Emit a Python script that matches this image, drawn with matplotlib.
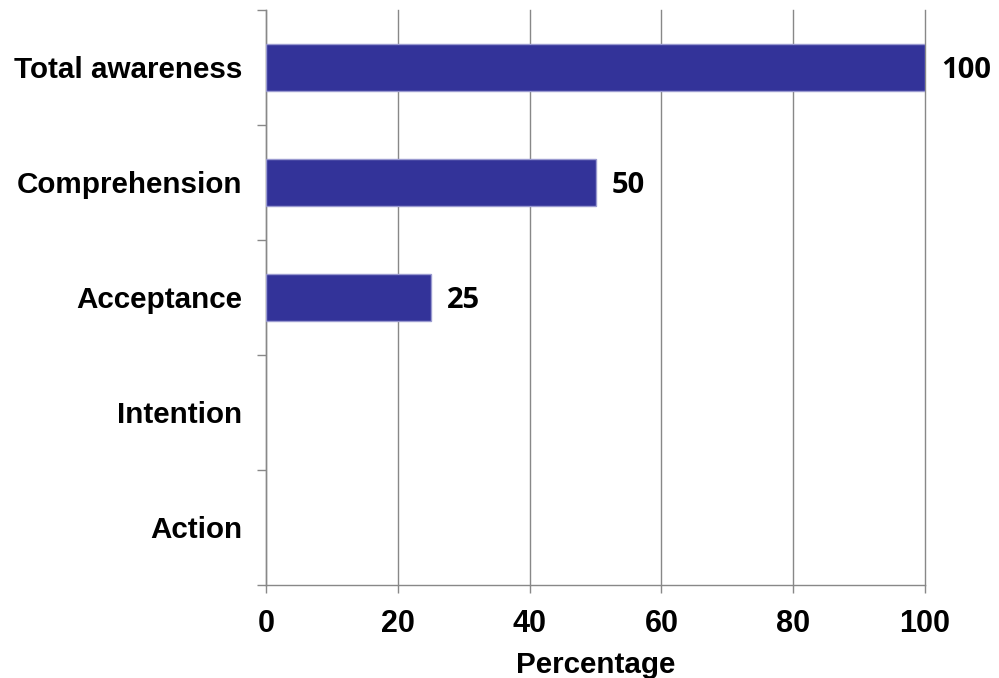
import numpy as np
import matplotlib.pyplot as plt
from matplotlib.ticker import FixedLocator

categories = ["Total awareness", "Comprehension", "Acceptance", "Intention", "Action"]
values = [100, 50, 25, 0, 0]
value_labels = ["100", "50", "25", "", ""]
xticks = [0, 20, 40, 60, 80, 100]

fig = plt.figure(figsize=(9.99, 6.78), dpi=100)
ax = fig.add_axes([0.2663, 0.1372, 0.6597, 0.8481])

y = np.arange(len(categories))
# only draw the non-empty bars (zero bars would leave an edge line)
shown = [i for i, v in enumerate(values) if v > 0]
ax.barh(y[shown], [values[i] for i in shown], height=0.41, color="#333399",
        edgecolor="#9a9ad0", linewidth=1, zorder=3)

for yi, v, lab in zip(y, values, value_labels):
    if lab:
        ax.text(v + 2.5, yi + 0.025, lab, va="center", ha="left", fontsize=21,
                fontweight="bold", family=["Open Sans", "DejaVu Sans"], color="black")

ax.set_xlim(0, 100)
ax.set_ylim(len(categories) - 0.5, -0.5)
ax.set_xticks(xticks)
ax.set_xticklabels([str(t) for t in xticks], fontsize=22, fontweight="bold",
                   family="Liberation Sans")
ax.set_yticks(y)
ax.set_yticklabels(categories, fontsize=21.3, fontweight="bold", family="Liberation Sans")
ax.yaxis.set_minor_locator(FixedLocator(np.arange(-0.5, len(categories), 1.0)))

ax.tick_params(axis="y", which="major", length=0, pad=17)
ax.tick_params(axis="y", which="minor", length=6.5, width=1, color="#888888")
ax.tick_params(axis="x", length=6, width=1, color="#888888", pad=11)

ax.grid(axis="x", color="#888888", linewidth=1, zorder=0)
for gl in ax.get_xgridlines():
    gl.set_clip_on(False)
for s in ["top", "right"]:
    ax.spines[s].set_visible(False)
for s in ["left", "bottom"]:
    ax.spines[s].set_color("#888888")
    ax.spines[s].set_linewidth(1)

ax.set_xlabel("Percentage", fontsize=21.3, fontweight="bold", family="Liberation Sans", labelpad=9)

fig.savefig("out.png", dpi=100)
